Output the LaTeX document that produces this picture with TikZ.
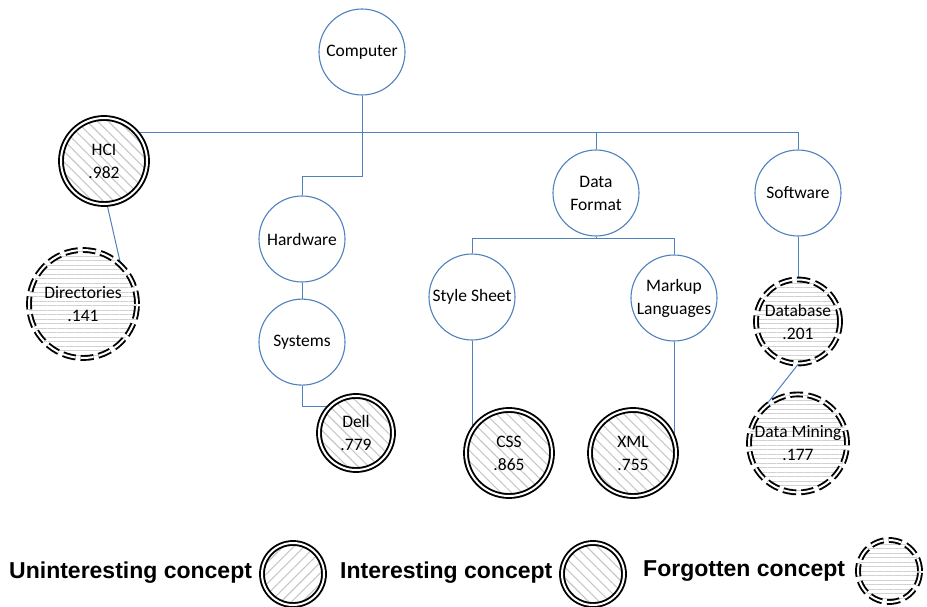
\documentclass[tikz,border=0pt]{standalone}
\usepackage{fontspec}
\setmainfont{Carlito}
\newfontfamily\legendfont{Liberation Sans}
\usepackage{xcolor}
\usepackage{tikz}
\usetikzlibrary{positioning, patterns.meta, backgrounds}

\definecolor{linkblue}{RGB}{79,129,189}
\newcommand{\cfont}{\fontsize{17.5}{23}\selectfont}

\tikzset{
  link/.style={draw=linkblue, line width=1pt},
  concept/.style={circle, draw=linkblue, line width=1.1pt, fill=white, minimum size=86pt,
    inner sep=0pt, align=center, font=\cfont},
  interesting/.style={concept, draw=black, double=white, double distance=2pt, line width=1.9pt,
    pattern={Lines[angle=-45, distance=7.5pt, line width=1.1pt]}, pattern color=black!22},
  uninteresting/.style={interesting,
    pattern={Lines[angle=45, distance=7.5pt, line width=1.1pt]}},
  forgotten/.style={concept, draw=black, double=white, double distance=2pt, line width=1.9pt,
    dash pattern=on 13pt off 5pt,
    pattern={Lines[angle=0, distance=4.5pt, line width=0.8pt]}, pattern color=black!18},
  legendtext/.style={font=\legendfont\bfseries\fontsize{23}{26}\selectfont, inner sep=0pt}
}

\begin{document}
\begin{tikzpicture}[x=1pt, y=-1pt]
		\useasboundingbox (0,0) rectangle (927,607);
		
		% Top levels
		\node[concept] (comp) at (362,52) {Computer};
		\node[interesting] (hci) at (104,161) {HCI\\.982};
		\node[concept] (hw) at (302,239) {Hardware};
		\node[concept] (df) at (596,193) {Data\\Format};
		\node[concept] (sw) at (798,193) {Software};
		
		% Lower levels
		\node[forgotten, minimum size=108pt] (dir) at (83,304) {Directories\\.141};
		\node[concept] (sys) [below=16pt of hw] {Systems};
		\node[interesting, minimum size=74pt] (dell) at (356,433) {Dell\\.779};
		\node[concept] (ss) at (472,297) {Style Sheet};
		\node[concept, inner sep=-4pt] (ml) at (674,298) {Markup\\Languages};
		\node[interesting] (css) at (509,453) {CSS\\.865};
		\node[interesting] (xml) at (633,453) {XML\\.755};
		\node[forgotten, minimum size=84pt] (db) [below=42pt of sw] {Database\\.201};
		\node[forgotten, minimum size=98pt] (dm) [below=29pt of db] {Data Mining\\.177};
		
		% Bends
		\coordinate (bus) at (362,133);
		\coordinate (hwbend) at (362,177);
		\coordinate (dfbus) at (596,238);
		
		% Edges
		\begin{scope}[on background layer]
			\draw[link] (comp) -- (bus);
			\draw[link] (bus) -- (bus -| hci.40);
			\draw[link] (bus) -| (df.north);
			\draw[link] (bus) -| (sw.north);
			\draw[link] (bus) -- (hwbend) -| (hw.north);
			\draw[link] (hci.-86) -- (dir.46);
			\draw[link] (hw) -- (sys);
			\draw[link] (sys.south) |- (dell.135);
			\draw[link] (df.south) -- (dfbus);
			\draw[link] (dfbus) -| (ss.north);
			\draw[link] (dfbus) -| (ml.north);
			\draw[link] (ss.south) -- (ss.south |- css.149);
			\draw[link] (ml.south) -- (ml.south |- xml.22);
			\draw[link] (sw) -- (db);
			\draw[link] (db.south) -- (dm.130);
		\end{scope}
		
		% Legend
		\node[legendtext, anchor=west] (lu) at (9,573) {Uninteresting concept};
		\node[uninteresting, minimum size=62pt] (cu) at (293,574) {};
		\node[legendtext, anchor=west] (li) at (340,573) {Interesting concept};
		\node[interesting, minimum size=62pt] (ci) at (593,574) {};
		\node[legendtext, anchor=west] (lf) at (643,571) {Forgotten concept};
		\node[forgotten, minimum size=62pt] (cf) at (889,571) {};
	\end{tikzpicture}
\end{document}
